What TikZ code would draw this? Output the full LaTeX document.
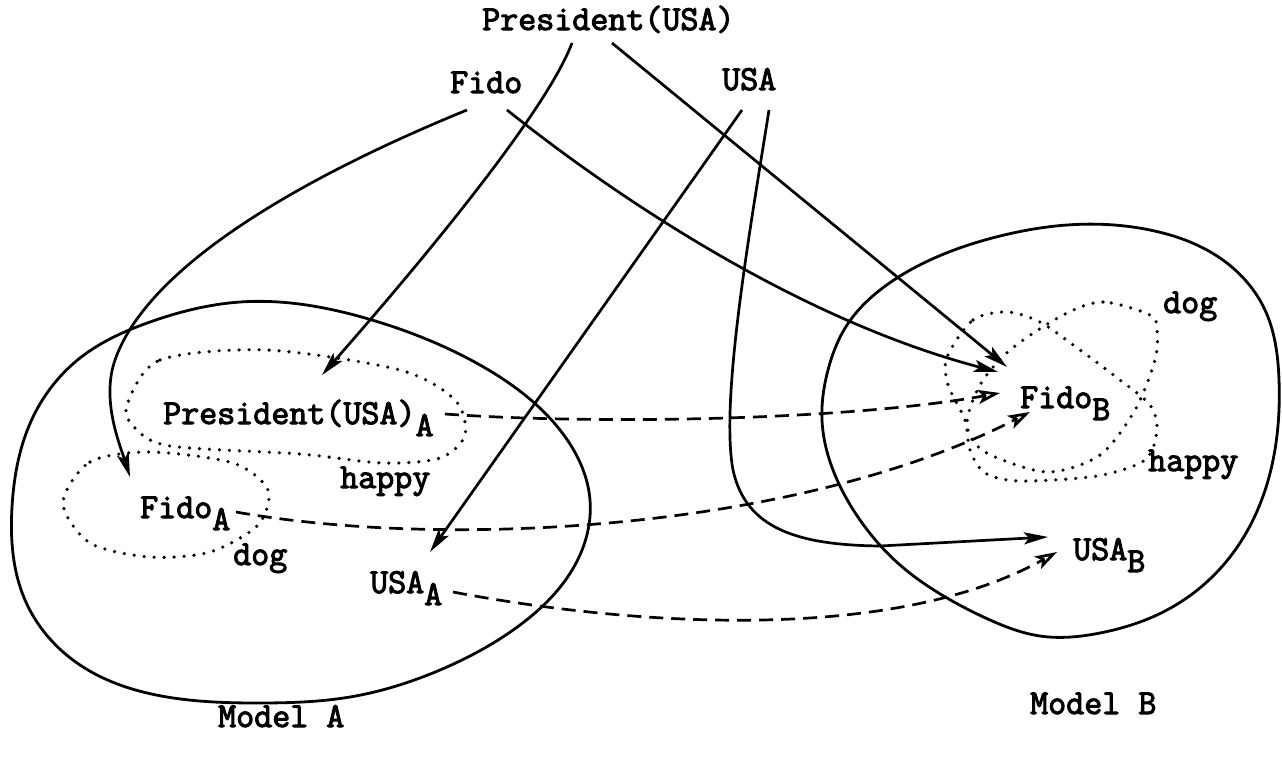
\documentclass[tikz,border=0pt]{standalone}
\usepackage{fontspec}
\usetikzlibrary{arrows.meta,hobby}
\newfontfamily\boldtt{Latin Modern Mono}[FakeBold=3]
\newcommand{\lowsub}[1]{\raisebox{-12pt}{#1}}
\begin{document}
\begin{tikzpicture}[x=1pt,y=-1pt,
  lbl/.style={font=\boldtt\fontsize{35}{35}\selectfont, inner sep=0pt, anchor=base west},
  solidarr/.style={line width=2.7pt, -{Stealth[length=24pt,width=12pt,inset=5pt]}},
  dasharr/.style={line width=2.7pt, dash pattern=on 14pt off 8pt, -{Stealth[open,length=22pt,width=14pt,inset=5pt]}},
  blob/.style={line width=2.8pt},
  dotloop/.style={line width=3.6pt, line cap=round, dash pattern=on 0pt off 10pt}]
\useasboundingbox (0,0) rectangle (1282,758);

% models
\draw[blob, use Hobby shortcut, closed=true] (240,302) .. (372,320) .. (480,365) .. (560,430) .. (590,500) .. (575,565) .. (520,625) .. (440,670) .. (350,697) .. (260,703) .. (167,697) .. (80,665) .. (25,600) .. (12,507) .. (33,417) .. (80,358) .. (150,322);
\draw[blob, use Hobby shortcut, closed=true] (1067,225) .. (1150,230) .. (1220,258) .. (1265,310) .. (1279,380) .. (1272,465) .. (1233,553) .. (1167,610) .. (1100,633) .. (1040,636) .. (990,620) .. (947,598) .. (900,565) .. (860,520) .. (833,470) .. (822,420) .. (828,370) .. (847,325) .. (880,290) .. (930,260) .. (1000,236);

% dotted sets
\draw[dotloop] plot[smooth cycle] coordinates {(127,405) (160,360) (267,350) (400,370) (455,400) (465,435) (440,458) (383,463) (300,454) (170,446) (135,428)};
\draw[dotloop] plot[smooth cycle] coordinates {(63,503) (90,462) (150,452) (233,463) (268,490) (258,525) (210,552) (150,557) (90,543)};
\draw[dotloop] plot[smooth cycle] coordinates {(947,357) (973,320) (1007,312) (1040,322) (1080,350) (1120,380) (1150,405) (1157,430) (1145,460) (1097,476) (1020,481) (985,473) (970,450) (965,420) (948,385)};
\draw[dotloop] plot[smooth cycle] coordinates {(1150,315) (1103,302) (1063,315) (1010,350) (980,385) (967,425) (985,452) (1047,472) (1100,455) (1135,410) (1155,360) (1157,330)};

% labels
\node[lbl] (ptop) at (482,30) {President(USA)};
\node[lbl] (fido) at (450,93) {Fido};
\node[lbl] (usa) at (722,90) {USA};
\node[lbl] (pA) at (163,424) {President(USA)\lowsub{A}};
\node[lbl] (happyA) at (340,488) {happy};
\node[lbl] (fidoA) at (140,518) {Fido\lowsub{A}};
\node[lbl] (dogA) at (233,565) {dog};
\node[lbl] (usaA) at (370,593) {USA\lowsub{A}};
\node[lbl] (fidoB) at (1020,408) {Fido\lowsub{B}};
\node[lbl] (dogB) at (1163,313) {dog};
\node[lbl] (happyB) at (1148,471) {happy};
\node[lbl] (usaB) at (1073,560) {USA\lowsub{B}};
\node[lbl] (modelA) at (218,727) {Model A};
\node[lbl] (modelB) at (1030,714) {Model B};

% connector ends
\coordinate (pt1) at (572,43);
\coordinate (pt2) at (612,43);
\coordinate (ft1) at (467,110);
\coordinate (ft2) at (507,110);
\coordinate (ut1) at (742,110);
\coordinate (ut2) at (769,110);
\coordinate (pAin) at (322,375);
\coordinate (fBin1) at (1007,367);
\coordinate (fBin2) at (998,372);
\coordinate (fAin) at (130,477);
\coordinate (uAin) at (430,552);
\coordinate (uBin) at (1048,537);
\coordinate (pAout) at (445,414);
\coordinate (fAout) at (236,512);
\coordinate (uAout) at (453,592);
\coordinate (fBd1) at (1000,393);
\coordinate (fBd2) at (1030,412);
\coordinate (uBd) at (1057,552);

% solid arrows
\draw[solidarr] (pt1) .. controls (545,115) and (410,275) .. (pAin);
\draw[solidarr] (pt2) -- (fBin1);
\draw[solidarr] (ft1) .. controls (320,170) and (150,260) .. (115,360) .. controls (101,400) and (120,445) .. (fAin);
\draw[solidarr] (ft2) .. controls (620,200) and (800,320) .. (fBin2);
\draw[solidarr] (ut1) -- (uAin);
\draw[solidarr] (ut2) .. controls (750,230) and (720,400) .. (733,470) .. controls (746,530) and (800,545) .. (880,546) -- (uBin);

% dashed arrows
\draw[dasharr] (pAout) .. controls (600,425) and (850,420) .. (fBd1);
\draw[dasharr] (fAout) .. controls (450,550) and (800,530) .. (fBd2);
\draw[dasharr] (uAout) .. controls (600,620) and (880,650) .. (uBd);
\end{tikzpicture}
\end{document}
